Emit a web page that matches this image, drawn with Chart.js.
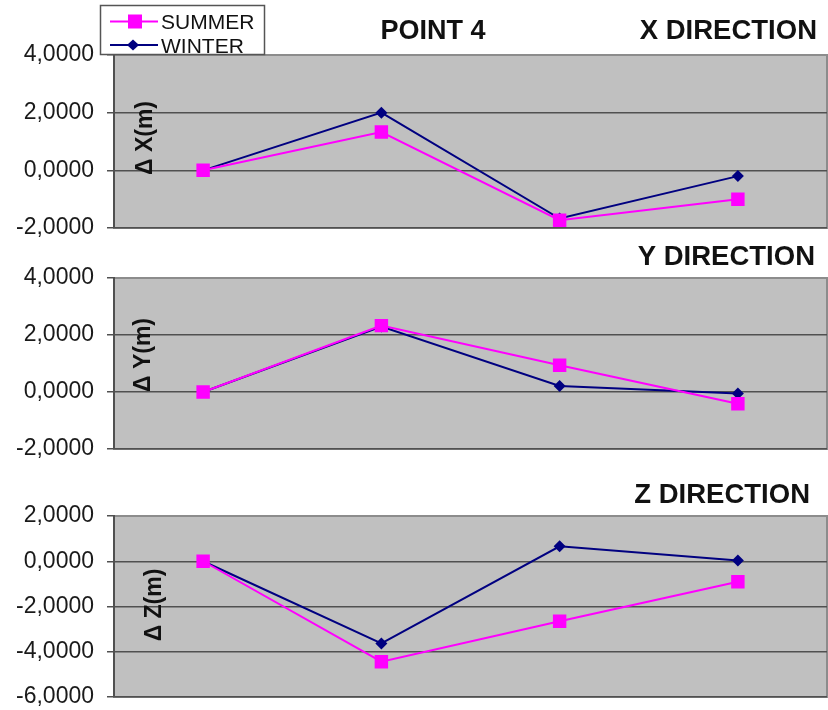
<!DOCTYPE html>
<html>
<head>
<meta charset="utf-8">
<script src="https://cdn.jsdelivr.net/npm/chart.js@4/dist/chart.umd.min.js"></script>
<style>
  html, body { margin: 0; padding: 0; background: #ffffff; overflow: hidden; }
  body { width: 828px; height: 710px; position: relative; }
  canvas { position: absolute; left: 0; }
</style>
</head>
<body>
<canvas id="cx" style="top:0px"></canvas>
<canvas id="cy" style="top:240px"></canvas>
<canvas id="cz" style="top:470px"></canvas>
<script>
// Survey epochs along the horizontal axis (not labelled)
const epochs = ['1', '2', '3', '4'];

// Displacements of point 4 in metres
const xSummer = [0, 1.33, -1.73, -1.00];
const xWinter = [0, 2.00, -1.67, -0.20];
const ySummer = [0, 2.33, 0.94, -0.41];
const yWinter = [0, 2.30, 0.21, -0.05];
const zSummer = [0, -4.44, -2.65, -0.91];
const zWinter = [0, -3.63, 0.66, 0.03];

// Axis ranges per panel
const xTicks = { min: -2, max: 4, step: 2 };
const yTicks = { min: -2, max: 4, step: 2 };
const zTicks = { min: -6, max: 2, step: 2 };

const seriesNames = ['SUMMER', 'WINTER'];
const FONT = "'Liberation Sans', Arial, sans-serif";
const PINK = '#ff00ff';
const NAVY = '#000080';

function fmt(v) {
  return v.toFixed(4).replace('.', ',');
}

// Grey plot background with a light frame
const plotFrame = {
  id: 'plotFrame',
  beforeDraw(chart) {
    const a = chart.chartArea, ctx = chart.ctx;
    ctx.save();
    ctx.fillStyle = '#c0c0c0';
    ctx.fillRect(a.left, a.top, a.right - a.left, a.bottom - a.top);
    ctx.strokeStyle = '#8c8c8c';
    ctx.lineWidth = 2;
    ctx.strokeRect(a.left, a.top, a.right - a.left, a.bottom - a.top);
    ctx.restore();
  }
};

// Panel captions and the rotated axis name inside the plot
const captions = {
  id: 'captions',
  afterDraw(chart, args, opts) {
    const ctx = chart.ctx;
    ctx.save();
    ctx.fillStyle = '#111';
    ctx.textBaseline = 'alphabetic';
    (opts.texts || []).forEach(t => {
      ctx.font = t.font;
      ctx.textAlign = t.align;
      ctx.fillText(t.text, t.x, t.y);
    });
    if (opts.axisName) {
      const n = opts.axisName;
      ctx.translate(n.x, n.y);
      ctx.rotate(-Math.PI / 2);
      ctx.font = 'bold 23px ' + FONT;
      ctx.textAlign = 'center';
      ctx.textBaseline = 'middle';
      ctx.fillText(n.text, 0, 0);
    }
    ctx.restore();
  }
};

// Boxed legend with line + marker samples
const boxLegend = {
  id: 'boxLegend',
  afterDraw(chart, args, opts) {
    if (!opts.show) return;
    const ctx = chart.ctx;
    ctx.save();
    ctx.fillStyle = '#ffffff';
    ctx.fillRect(100, 5, 165, 50);
    ctx.strokeStyle = '#555';
    ctx.lineWidth = 1.5;
    ctx.strokeRect(100.5, 5.5, 164, 49);
    const rows = [21.5, 45];
    chart.data.datasets.forEach((ds, i) => {
      const y = rows[i];
      ctx.strokeStyle = ds.borderColor;
      ctx.lineWidth = 2;
      ctx.beginPath();
      ctx.moveTo(110, y);
      ctx.lineTo(158, y);
      ctx.stroke();
      ctx.fillStyle = ds.borderColor;
      if (ds.pointStyle === 'rect') {
        ctx.fillRect(128, y - 7, 14, 14);
      } else {
        ctx.beginPath();
        ctx.moveTo(133 - 6, y);
        ctx.lineTo(133, y - 5.5);
        ctx.lineTo(133 + 6, y);
        ctx.lineTo(133, y + 5.5);
        ctx.closePath();
        ctx.fill();
      }
      ctx.fillStyle = '#111';
      ctx.font = '21px ' + FONT;
      ctx.textAlign = 'left';
      ctx.textBaseline = 'alphabetic';
      ctx.fillText(seriesNames[i], 161, y + 7.5);
    });
    ctx.restore();
  }
};

function makeChart(id, height, padTop, padBottom, summer, winter, range, texts, axisName, showLegend) {
  const cv = document.getElementById(id);
  cv.width = 828;
  cv.height = height;
  cv.style.width = '828px';
  cv.style.height = height + 'px';
  return new Chart(cv, {
    type: 'line',
    data: {
      labels: epochs,
      datasets: [
        {
          label: seriesNames[0],
          data: summer,
          borderColor: PINK,
          backgroundColor: PINK,
          borderWidth: 2,
          pointStyle: 'rect',
          pointRadius: 9.5,
          pointBorderWidth: 0,
          tension: 0
        },
        {
          label: seriesNames[1],
          data: winter,
          borderColor: NAVY,
          backgroundColor: NAVY,
          borderWidth: 2,
          pointStyle: 'rectRot',
          pointRadius: 6,
          pointBorderWidth: 0,
          tension: 0
        }
      ]
    },
    options: {
      responsive: false,
      animation: false,
      devicePixelRatio: 1,
      layout: { autoPadding: false, padding: { top: padTop, bottom: padBottom, left: 0, right: 1 } },
      plugins: {
        legend: { display: false },
        tooltip: { enabled: false },
        captions: { texts: texts, axisName: axisName },
        boxLegend: { show: showLegend }
      },
      scales: {
        x: {
          type: 'category',
          offset: true,
          display: false
        },
        y: {
          min: range.min,
          max: range.max,
          afterFit(s) { s.width = 114; },
          ticks: {
            stepSize: range.step,
            padding: 13,
            color: '#1a1a1a',
            font: { family: FONT, size: 23 },
            callback: v => fmt(v)
          },
          grid: {
            color: ctx => (ctx.tick && ctx.tick.value === range.max) ? 'rgba(0,0,0,0)' : '#505050',
            tickColor: '#505050',
            lineWidth: 1.5,
            tickLength: 7,
            drawTicks: true
          },
          border: { display: true, color: '#505050', width: 2 }
        }
      }
    },
    plugins: [plotFrame, captions, boxLegend]
  });
}

const titleFont = 'bold 27px ' + FONT;
const dirFont = 'bold 27.5px ' + FONT;

// canvas height, top padding and bottom padding place each plot band
makeChart('cx', 258, 55, 30, xSummer, xWinter, xTicks, [
  { text: 'POINT 4', x: 433, y: 39, align: 'center', font: titleFont },
  { text: 'X DIRECTION', x: 817, y: 39, align: 'right', font: dirFont }
], { text: 'Δ X(m)', x: 146, y: 138 }, true);

makeChart('cy', 240, 38, 31, ySummer, yWinter, yTicks, [
  { text: 'Y DIRECTION', x: 815, y: 25, align: 'right', font: dirFont }
], { text: 'Δ Y(m)', x: 144, y: 115 }, false);

makeChart('cz', 260, 46, 33, zSummer, zWinter, zTicks, [
  { text: 'Z DIRECTION', x: 810, y: 33, align: 'right', font: dirFont }
], { text: 'Δ Z(m)', x: 155, y: 135 }, false);
</script>
</body>
</html>
